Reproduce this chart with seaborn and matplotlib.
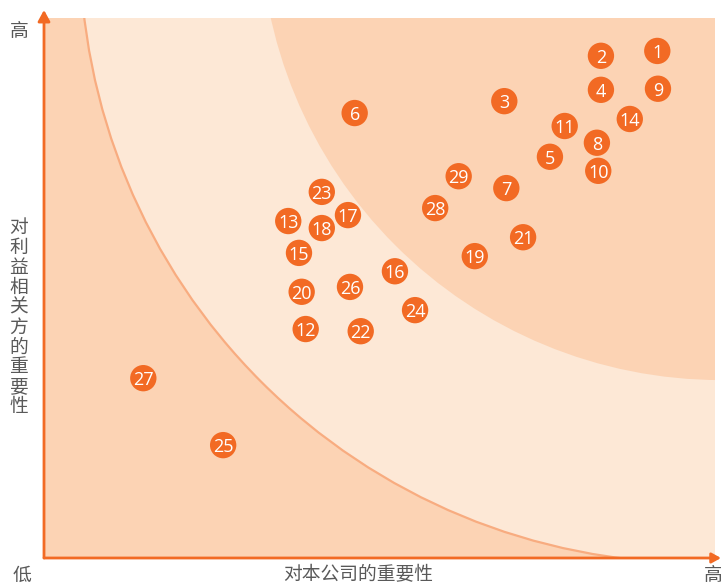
import matplotlib
matplotlib.use("Agg")
import matplotlib.pyplot as plt
from matplotlib.patches import Ellipse
import seaborn as sns
import pandas as pd

# ---- data (0-100 scale on both axes) ----
issue_ids = [str(i) for i in range(1, 30)]
company_importance = [91.4, 83.0, 68.6, 83.0, 75.4, 46.3, 68.9, 82.4, 91.5, 82.6,
                      77.6, 39.0, 36.4, 87.3, 38.0, 52.3, 45.3, 41.4, 64.2, 38.4,
                      71.4, 47.2, 41.4, 55.3, 26.7, 45.6, 14.8, 58.3, 61.8]
stakeholder_importance = [93.9, 93.0, 84.6, 86.7, 74.3, 82.4, 68.5, 76.9, 86.9, 71.7,
                          80.0, 42.4, 62.4, 81.3, 56.5, 53.1, 63.5, 61.1, 55.9, 49.3,
                          59.4, 42.0, 67.8, 45.9, 20.9, 50.2, 33.3, 64.8, 70.7]
x_label = "对本公司的重要性"
y_label = "对利益相关方的重要性"
low_label = "低"
high_label = "高"

df = pd.DataFrame({"id": issue_ids, "x": company_importance, "y": stakeholder_importance})

sns.set_theme(style="white")
plt.rcParams['font.family'] = ['Noto Sans CJK SC', 'DejaVu Sans']

W, H = 721, 585
fig = plt.figure(figsize=(W / 100, H / 100), dpi=100)
L, R, T, B = 44, 715, 18, 558
ax = fig.add_axes([L / W, (H - B) / H, (R - L) / W, (B - T) / H])

outer_col = "#FCD3B4"
mid_col = "#FDE8D6"
point_col = "#F26A24"
axis_col = "#F26A24"
text_col = "#595959"

ax.set_facecolor(outer_col)
ax.set_xlim(0, 100)
ax.set_ylim(0, 100)

outer = Ellipse((97.6, 113.7), 184.5, 229.3, facecolor=mid_col,
                edgecolor="#F8AC80", lw=1.6, zorder=1)
inner = Ellipse((100.9, 118.3), 137.4, 170.7, facecolor=outer_col,
                edgecolor="none", zorder=2)
ax.add_patch(outer)
ax.add_patch(inner)

sns.scatterplot(data=df, x="x", y="y", ax=ax, s=360, color=point_col,
                edgecolor="none", zorder=5, legend=False)
for _, r in df.iterrows():
    ax.text(r["x"], r["y"], r["id"], color="white", ha="center", va="center_baseline",
            fontsize=13, family=["Open Sans", "DejaVu Sans"], zorder=6)

for s in ax.spines.values():
    s.set_visible(False)
ax.set_xticks([])
ax.set_yticks([])
ax.set_xlabel("")
ax.set_ylabel("")

# axes with arrows
ax.annotate("", xy=(0, 1 + 8 / 540), xytext=(0, 0), xycoords="axes fraction",
            arrowprops=dict(arrowstyle="-|>,head_length=0.55,head_width=0.3",
                            color=axis_col, lw=2, shrinkA=0, shrinkB=0),
            annotation_clip=False)
ax.annotate("", xy=(1 + 6 / 671, 0), xytext=(0, 0), xycoords="axes fraction",
            arrowprops=dict(arrowstyle="-|>,head_length=0.45,head_width=0.25",
                            color=axis_col, lw=2, shrinkA=0, shrinkB=0),
            annotation_clip=False)

fs = 13.5
fig.text(19 / W, 1 - 31 / H, high_label, ha="center", va="center", fontsize=fs, color=text_col)
fig.text(22 / W, 1 - 575 / H, low_label, ha="center", va="center", fontsize=fs, color=text_col)
fig.text(713 / W, 1 - 575 / H, high_label, ha="center", va="center", fontsize=fs, color=text_col)
fig.text(358 / W, 1 - 575 / H, x_label, ha="center", va="center", fontsize=fs, color=text_col)
fig.text(19 / W, 1 - 317 / H, "\n".join(y_label), ha="center", va="center", fontsize=fs,
         color=text_col, linespacing=0.93)

fig.savefig("out.png", dpi=100)
